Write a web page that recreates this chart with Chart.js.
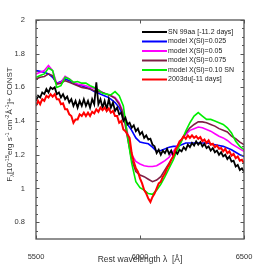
<!DOCTYPE html>
<html>
<head>
<meta charset="utf-8">
<script src="https://cdn.jsdelivr.net/npm/chart.js@4.4.0/dist/chart.umd.min.js"></script>
<style>
  html, body { margin: 0; padding: 0; background: #fff; }
  #wrap { width: 269px; height: 269px; }
</style>
</head>
<body>
<div id="wrap"><canvas id="myChart" width="269" height="269"></canvas></div>
<script>
// wavelengths (Angstrom) for the model spectra, 20 A step
const waveModel = [5500, 5520, 5540, 5560, 5580, 5600, 5620, 5640, 5660, 5680,
  5700, 5720, 5740, 5760, 5780, 5800, 5820, 5840, 5860, 5880,
  5900, 5920, 5940, 5960, 5980, 6000, 6020, 6040, 6060, 6080,
  6100, 6120, 6140, 6160, 6180, 6200, 6220, 6240, 6260, 6280,
  6300, 6320, 6340, 6360, 6380, 6400, 6420, 6440, 6460, 6480, 6500];

const modelSi025 = [1.70, 1.695, 1.69, 1.68, 1.66, 1.625, 1.635, 1.65, 1.64, 1.625,
  1.615, 1.61, 1.60, 1.59, 1.575, 1.565, 1.555, 1.545, 1.53, 1.51,
  1.48, 1.43, 1.38, 1.345, 1.30, 1.275, 1.27, 1.265, 1.245, 1.22,
  1.225, 1.235, 1.245, 1.25, 1.25, 1.26, 1.27, 1.27, 1.27, 1.27,
  1.27, 1.27, 1.265, 1.26, 1.255, 1.25, 1.24, 1.23, 1.215, 1.20, 1.19];

const modelSi05 = [1.68, 1.69, 1.70, 1.73, 1.70, 1.62, 1.63, 1.665, 1.65, 1.63,
  1.62, 1.615, 1.61, 1.60, 1.595, 1.585, 1.57, 1.56, 1.55, 1.54,
  1.51, 1.45, 1.33, 1.20, 1.16, 1.145, 1.135, 1.13, 1.13, 1.135,
  1.15, 1.165, 1.185, 1.22, 1.255, 1.29, 1.32, 1.345, 1.355, 1.365,
  1.36, 1.35, 1.34, 1.325, 1.31, 1.30, 1.285, 1.265, 1.25, 1.235, 1.22];

const modelSi075 = [1.65, 1.66, 1.665, 1.68, 1.67, 1.62, 1.625, 1.64, 1.63, 1.62,
  1.61, 1.60, 1.595, 1.59, 1.58, 1.575, 1.57, 1.56, 1.55, 1.535,
  1.50, 1.44, 1.30, 1.17, 1.10, 1.08, 1.07, 1.055, 1.04, 1.05,
  1.07, 1.11, 1.15, 1.19, 1.24, 1.29, 1.33, 1.36, 1.38, 1.395,
  1.395, 1.39, 1.38, 1.37, 1.355, 1.345, 1.335, 1.31, 1.295, 1.275, 1.26];

const modelSi10 = [1.66, 1.67, 1.68, 1.715, 1.70, 1.60, 1.61, 1.66, 1.65, 1.63,
  1.635, 1.625, 1.625, 1.61, 1.60, 1.585, 1.565, 1.56, 1.555, 1.575,
  1.55, 1.49, 1.31, 1.15, 1.04, 1.005, 0.99, 0.97, 0.965, 0.99,
  1.025, 1.07, 1.12, 1.17, 1.23, 1.28, 1.34, 1.39, 1.43, 1.45,
  1.43, 1.41, 1.41, 1.40, 1.39, 1.38, 1.36, 1.33, 1.28, 1.25, 1.23];

// wavelengths for the observed spectra, 10 A step
const waveObs = [5500, 5510, 5520, 5530, 5540, 5550, 5560, 5570, 5580, 5590,
  5600, 5610, 5620, 5630, 5640, 5650, 5660, 5670, 5680, 5690,
  5700, 5710, 5720, 5730, 5740, 5750, 5760, 5770, 5780, 5790,
  5800, 5810, 5820, 5830, 5840, 5850, 5860, 5870, 5880, 5890,
  5900, 5910, 5920, 5930, 5940, 5950, 5960, 5970, 5980, 5990,
  6000, 6010, 6020, 6030, 6040, 6050, 6060, 6070, 6080, 6090,
  6100, 6110, 6120, 6130, 6140, 6150, 6160, 6170, 6180, 6190,
  6200, 6210, 6220, 6230, 6240, 6250, 6260, 6270, 6280, 6290,
  6300, 6310, 6320, 6330, 6340, 6350, 6360, 6370, 6380, 6390,
  6400, 6410, 6420, 6430, 6440, 6450, 6460, 6470, 6480, 6490, 6500];

const sn99aa = [1.52, 1.55, 1.54, 1.57, 1.56, 1.59, 1.57, 1.60, 1.59, 1.60,
  1.56, 1.57, 1.54, 1.56, 1.53, 1.545, 1.51, 1.53, 1.49, 1.52,
  1.48, 1.52, 1.49, 1.53, 1.49, 1.52, 1.48, 1.53, 1.50, 1.63,
  1.50, 1.53, 1.48, 1.52, 1.47, 1.53, 1.48, 1.51, 1.46, 1.48,
  1.44, 1.45, 1.40, 1.42, 1.38, 1.39, 1.36, 1.375, 1.34, 1.355,
  1.32, 1.335, 1.30, 1.315, 1.29, 1.295, 1.26, 1.25, 1.21, 1.23,
  1.20, 1.225, 1.21, 1.235, 1.205, 1.225, 1.195, 1.22, 1.205, 1.23,
  1.22, 1.245, 1.23, 1.26, 1.245, 1.27, 1.255, 1.28, 1.26, 1.275,
  1.25, 1.265, 1.24, 1.25, 1.225, 1.24, 1.215, 1.225, 1.20, 1.215,
  1.19, 1.20, 1.175, 1.19, 1.16, 1.165, 1.13, 1.14, 1.11, 1.12, 1.10];

const sn2003du = [1.49, 1.52, 1.50, 1.53, 1.52, 1.55, 1.54, 1.56, 1.545, 1.56,
  1.53, 1.53, 1.50, 1.505, 1.47, 1.47, 1.44, 1.43, 1.39, 1.41,
  1.41, 1.44, 1.43, 1.45, 1.43, 1.45, 1.43, 1.455, 1.445, 1.47,
  1.455, 1.48, 1.465, 1.48, 1.46, 1.475, 1.45, 1.46, 1.43, 1.43,
  1.39, 1.40, 1.35, 1.34, 1.32, 1.30, 1.21, 1.16, 1.12, 1.10,
  1.06, 1.03, 0.99, 0.97, 0.94, 0.92, 0.95, 0.97, 1.00, 1.03,
  1.04, 1.07, 1.09, 1.12, 1.14, 1.17, 1.19, 1.23, 1.25, 1.28,
  1.29, 1.31, 1.295, 1.315, 1.30, 1.315, 1.30, 1.31, 1.295, 1.305,
  1.28, 1.29, 1.27, 1.285, 1.26, 1.265, 1.245, 1.255, 1.235, 1.24,
  1.22, 1.235, 1.21, 1.22, 1.195, 1.205, 1.18, 1.19, 1.165, 1.17, 1.15];

const seriesLabels = ["SN 99aa [-11.2 days]", "model X(Si)=0.025", "model X(Si)=0.05",
  "model X(Si)=0.075", "model X(Si)=0.10 SN", "2003du[-11 days]"];
const xTicks = [5500, 6000, 6500];
const yTicks = [0.8, 1, 1.2, 1.4, 1.6, 1.8, 2];
const yMinor = [0.75, 0.85, 0.9, 0.95, 1.05, 1.1, 1.15, 1.25, 1.3, 1.35, 1.45, 1.5, 1.55,
  1.65, 1.7, 1.75, 1.85, 1.9, 1.95];

const FONT = "'Liberation Sans', Arial, sans-serif";

let toXY = (xs, ys) => xs.map((x, i) => ({ x: x, y: ys[i] }));

// frame with inward ticks on all four sides
const framePlugin = {
  id: "frame",
  afterDraw(chart) {
    const ctx = chart.ctx;
    const a = chart.chartArea;
    const xs = chart.scales.x;
    const ys = chart.scales.y;
    ctx.save();
    ctx.strokeStyle = "#555";
    ctx.lineWidth = 1.3;
    ctx.strokeRect(a.left, a.top, a.right - a.left, a.bottom - a.top);
    ctx.lineWidth = 1;
    ctx.beginPath();
    yTicks.concat(yMinor).forEach(v => {
      const len = yTicks.includes(v) ? 3.5 : 2;
      const py = Math.round(ys.getPixelForValue(v)) + 0.5;
      ctx.moveTo(a.left, py); ctx.lineTo(a.left + len, py);
      ctx.moveTo(a.right, py); ctx.lineTo(a.right - len, py);
    });
    xTicks.forEach(v => {
      const px = Math.round(xs.getPixelForValue(v)) + 0.5;
      ctx.moveTo(px, a.bottom); ctx.lineTo(px, a.bottom - 3.5);
      ctx.moveTo(px, a.top); ctx.lineTo(px, a.top + 3.5);
    });
    ctx.stroke();

    // legend
    ctx.font = "7px " + FONT;
    ctx.textBaseline = "middle";
    chart.data.datasets.forEach((ds, i) => {
      const y = a.top + 12 + i * 9.5;
      ctx.strokeStyle = ds.borderColor;
      ctx.lineWidth = 2;
      ctx.beginPath();
      ctx.moveTo(a.left + 106, y);
      ctx.lineTo(a.left + 131, y);
      ctx.stroke();
      ctx.fillStyle = "#222";
      ctx.fillText(ds.label, a.left + 132, y);
    });

    // y axis title with sub/superscripts
    const parts = [["F", 0], ["\u03bb", -1], ["[10", 0], ["-15", 1], ["erg s", 0], ["-1", 1],
      [" cm", 0], ["-2", 1], ["\u00c5", 0], ["-1", 1], ["]+ CONST", 0]];
    const big = "8px " + FONT, small = "5.5px " + FONT;
    let total = 0;
    parts.forEach(p => { ctx.font = p[1] ? small : big; total += ctx.measureText(p[0]).width; });
    ctx.translate(10, (a.top + a.bottom) / 2 - 5);
    ctx.rotate(-Math.PI / 2);
    ctx.fillStyle = "#333";
    ctx.textBaseline = "middle";
    let x = -total / 2;
    parts.forEach(p => {
      ctx.font = p[1] ? small : big;
      ctx.fillText(p[0], x, p[1] === 1 ? -3 : (p[1] === -1 ? 2.5 : 0));
      x += ctx.measureText(p[0]).width;
    });
    ctx.restore();
  }
};

const bgPlugin = {
  id: "bg",
  beforeDraw(chart) {
    const ctx = chart.ctx;
    ctx.save();
    ctx.fillStyle = "#fff";
    ctx.fillRect(0, 0, chart.width, chart.height);
    ctx.restore();
  }
};

const colors = ["#000000", "#0000ff", "#ff00ff", "#7f1f45", "#00ee00", "#ff0000"];
const seriesData = [toXY(waveObs, sn99aa), toXY(waveModel, modelSi025), toXY(waveModel, modelSi05),
  toXY(waveModel, modelSi075), toXY(waveModel, modelSi10), toXY(waveObs, sn2003du)];
const drawOrder = [1, 5, 4, 3, 2, 0];
const widths = [1.8, 1.6, 1.6, 1.6, 1.6, 2];

let ctx = document.getElementById("myChart").getContext("2d");
let chart = new Chart(ctx, {
  type: "line",
  data: {
    datasets: seriesLabels.map((lab, i) => ({
      label: lab,
      data: seriesData[i],
      borderColor: colors[i],
      backgroundColor: colors[i],
      borderWidth: widths[i],
      pointRadius: 0,
      tension: 0,
      order: drawOrder[i]
    }))
  },
  options: {
    responsive: false,
    animation: false,
    events: [],
    layout: { padding: { top: 20, right: 25, left: 0, bottom: 0 } },
    plugins: { legend: { display: false }, tooltip: { enabled: false } },
    scales: {
      x: {
        type: "linear",
        min: 5500,
        max: 6500,
        afterBuildTicks: s => { s.ticks = xTicks.map(v => ({ value: v })); },
        afterFit: s => { s.height = 30; },
        grid: { display: false },
        border: { display: false },
        ticks: { color: "#333", font: { family: FONT, size: 7.5 }, padding: 5, maxRotation: 0,
          callback: v => String(v) },
        title: { display: true, text: "Rest wavelength \u03bb  [\u00c5]", color: "#333",
          font: { family: FONT, size: 8.5 }, padding: { top: 1 } }
      },
      y: {
        min: 0.7,
        max: 2,
        afterBuildTicks: s => { s.ticks = yTicks.map(v => ({ value: v })); },
        afterFit: s => { s.width = 36; },
        grid: { display: false },
        border: { display: false },
        ticks: { color: "#333", font: { family: FONT, size: 7.5 }, padding: 3,
          callback: v => String(Math.round(v * 10) / 10) }
      }
    }
  },
  plugins: [bgPlugin, framePlugin]
});
</script>
</body>
</html>
